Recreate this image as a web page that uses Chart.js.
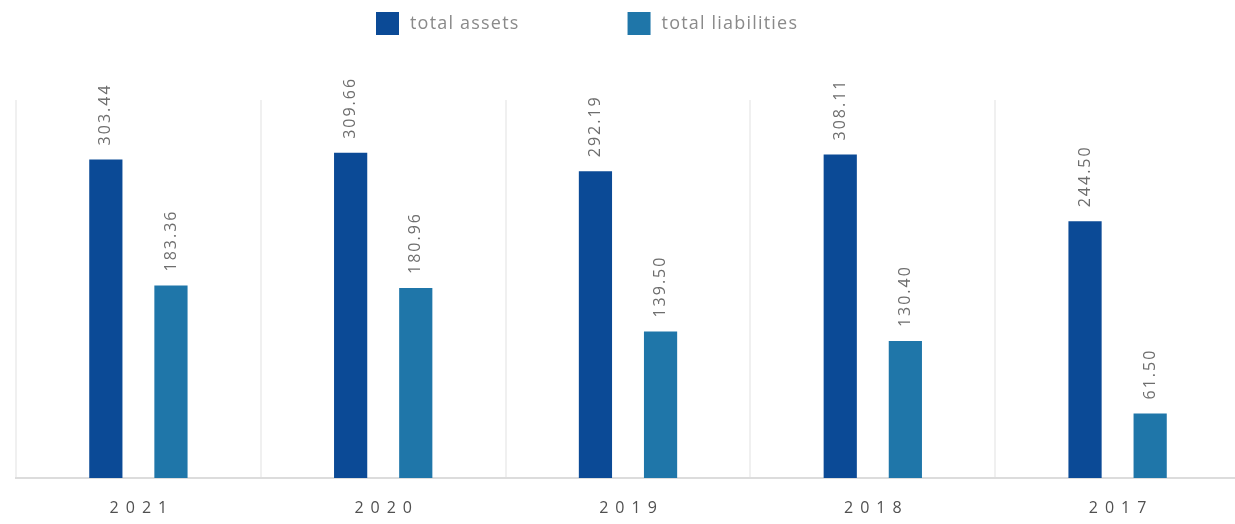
<!DOCTYPE html>
<html>
<head>
<meta charset="utf-8">
<script src="https://cdn.jsdelivr.net/npm/chart.js@4.4.1/dist/chart.umd.min.js"></script>
<style>
  html, body { margin: 0; padding: 0; background: #fff; overflow: hidden; }
  #wrap { width: 1240px; height: 524px; }
</style>
</head>
<body>
<div id="wrap"><canvas id="c" width="1240" height="524"></canvas></div>
<script>
// Balance sheet totals by year
const years = ['2021', '2020', '2019', '2018', '2017'];
const totalAssets = [303.44, 309.66, 292.19, 308.11, 244.50];
const totalLiabilities = [183.36, 180.96, 139.50, 130.40, 61.50];
const seriesNames = ['total assets', 'total liabilities'];
const seriesColors = ['#0b4a96', '#1f76a9'];

// Value labels written vertically above every bar
const barValueLabels = {
  id: 'barValueLabels',
  afterDatasetsDraw(chart) {
    const ctx = chart.ctx;
    ctx.save();
    ctx.font = '16px "Open Sans", sans-serif';
    ctx.fillStyle = '#6e6e6e';
    ctx.letterSpacing = '2px';
    ctx.textAlign = 'left';
    ctx.textBaseline = 'middle';
    chart.data.datasets.forEach((ds, di) => {
      const meta = chart.getDatasetMeta(di);
      meta.data.forEach((bar, i) => {
        ctx.save();
        ctx.translate(bar.x, bar.y - 14);
        ctx.rotate(-Math.PI / 2);
        ctx.fillText(ds.data[i].toFixed(2), 0, 0);
        ctx.restore();
      });
    });
    ctx.restore();
  }
};

// Spaced-out year labels under the axis
const yearLabels = {
  id: 'yearLabels',
  afterDraw(chart) {
    const ctx = chart.ctx;
    const x = chart.scales.x;
    ctx.save();
    ctx.font = '16px "Open Sans", sans-serif';
    ctx.fillStyle = '#505050';
    ctx.letterSpacing = '7px';
    ctx.textAlign = 'center';
    ctx.textBaseline = 'middle';
    chart.data.labels.forEach((lab, i) => {
      ctx.fillText(lab, x.getPixelForTick(i) + 3.5, x.bottom + 30);
    });
    ctx.restore();
  }
};

// Legend row across the top
const topLegend = {
  id: 'topLegend',
  afterDraw(chart) {
    const ctx = chart.ctx;
    ctx.save();
    ctx.font = '18px "Open Sans", sans-serif';
    ctx.letterSpacing = '1.2px';
    ctx.textBaseline = 'middle';
    ctx.textAlign = 'left';
    let x = 376;
    const y = 24;
    chart.data.datasets.forEach((ds) => {
      ctx.fillStyle = ds.backgroundColor;
      ctx.fillRect(x, y - 12, 23, 23);
      ctx.fillStyle = '#8a8a8a';
      ctx.fillText(ds.label, x + 34, y);
      x += 34 + ctx.measureText(ds.label).width + 108;
    });
    ctx.restore();
  }
};

new Chart(document.getElementById('c'), {
  type: 'bar',
  data: {
    labels: years,
    datasets: [
      { label: seriesNames[0], data: totalAssets, backgroundColor: seriesColors[0] },
      { label: seriesNames[1], data: totalLiabilities, backgroundColor: seriesColors[1] }
    ]
  },
  options: {
    responsive: false,
    animation: false,
    layout: { padding: { top: 100, left: 16, right: 0, bottom: 46 } },
    datasets: { bar: { categoryPercentage: 0.532, barPercentage: 0.51 } },
    plugins: {
      legend: { display: false },
      tooltip: { enabled: false }
    },
    scales: {
      x: {
        grid: { color: '#f0f0f0', lineWidth: 2, drawTicks: false, offset: true },
        border: { display: true, color: '#dcdcdc', width: 2 },
        ticks: { display: false }
      },
      y: {
        display: false,
        min: 0,
        max: 360
      }
    }
  },
  plugins: [barValueLabels, yearLabels, topLegend]
});
</script>
</body>
</html>
